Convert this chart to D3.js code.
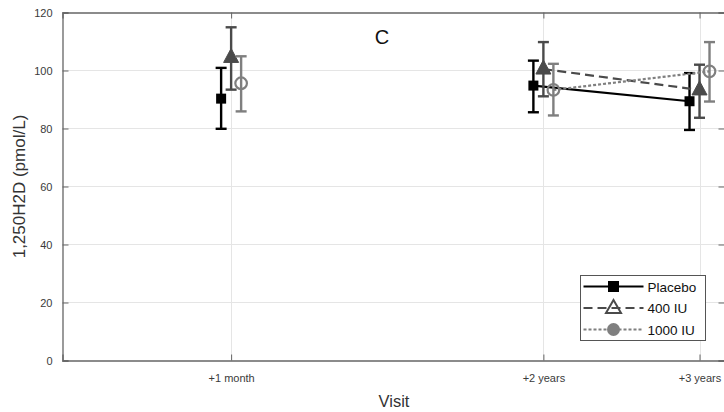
<!DOCTYPE html>
<html><head><meta charset="utf-8">
<script src="https://cdn.jsdelivr.net/npm/d3@7"></script>
<style>body{margin:0;background:#fff}svg{display:block}text{font-family:"Liberation Sans",Arial,sans-serif}</style>
</head><body><svg id="c" width="724" height="412"></svg>
<script>
// ---- data ----
const visitLabels = ["+1 month", "+2 years", "+3 years"];
const visitPos = [1, 3, 4];
const seriesNames = ["Placebo", "400 IU", "1000 IU"];
const placeboMean = [90.3, 94.8, 89.4];
const placeboLow = [79.9, 85.6, 79.5];
const placeboHigh = [100.9, 103.4, 99.1];
const iu400Mean = [104.5, 100.5, 93.3];
const iu400Low = [93.4, 91.1, 83.7];
const iu400High = [114.9, 109.8, 102.0];
const iu1000Mean = [95.6, 93.3, 99.7];
const iu1000Low = [85.9, 84.5, 89.3];
const iu1000High = [104.9, 102.3, 109.8];
const yTicks = [0, 20, 40, 60, 80, 100, 120];
const connectedFrom = 1; // lines join visits from "+2 years" onward

const svg = d3.select("#c");
const L = 62.5, R = 724.5, T = 12.5, B = 360.5;
const x = d3.scaleLinear().domain([-0.08, 4.16]).range([L, R]);
const y = d3.scaleLinear().domain([0, 120]).range([B, T]);

// grid
svg.append("g").selectAll("line").data(yTicks.slice(1, -1)).join("line")
  .attr("x1", L).attr("x2", R).attr("y1", d => y(d)).attr("y2", d => y(d))
  .attr("stroke", "#e5e5e5").attr("stroke-width", 1);
svg.append("g").selectAll("line").data(visitPos).join("line")
  .attr("y1", T).attr("y2", B).attr("x1", d => Math.round(x(d)) + 0.5).attr("x2", d => Math.round(x(d)) + 0.5)
  .attr("stroke", "#e5e5e5").attr("stroke-width", 1);

// axes
const axCol = "#666";
const yAxis = svg.append("g").attr("transform", `translate(${L},0)`)
  .call(d3.axisLeft(y).tickValues(yTicks).tickSize(-6).tickPadding(10));
const xAxis = svg.append("g").attr("transform", `translate(0,${B})`)
  .call(d3.axisBottom(x).tickValues(visitPos).tickFormat((d, i) => visitLabels[i]).tickSize(-6).tickPadding(14));
const yAxisR = svg.append("g").attr("transform", `translate(${R},0)`)
  .call(d3.axisRight(y).tickValues(yTicks).tickSize(-6).tickFormat(""));
const xAxisT = svg.append("g").attr("transform", `translate(0,${T})`)
  .call(d3.axisTop(x).tickValues(visitPos).tickSize(-6).tickFormat(""));
[yAxis, xAxis, yAxisR, xAxisT].forEach(g => {
  g.select(".domain").attr("stroke", axCol).attr("stroke-width", 1.3);
  g.selectAll(".tick line").attr("stroke", axCol);
  g.selectAll("text").attr("fill", "#3a3a3a").style("font-size", "11px").style("font-family", "'Liberation Sans',Arial,sans-serif");
});

// labels
svg.append("text").attr("x", 394).attr("y", 407).attr("text-anchor", "middle")
  .attr("fill", "#333").style("font-size", "16.5px").text("Visit");
svg.append("text").attr("transform", `translate(25,${(T + B) / 2}) rotate(-90)`).attr("text-anchor", "middle")
  .attr("fill", "#333").style("font-size", "17px").text("1,250H2D (pmol/L)");
svg.append("text").attr("x", 382).attr("y", 44).attr("text-anchor", "middle")
  .attr("fill", "#111").style("font-size", "20px").text("C");

// series
const series = [
  {name: seriesNames[0], mean: placeboMean, lo: placeboLow, hi: placeboHigh, color: "#000", dx: -10, dash: null, marker: "square"},
  {name: seriesNames[1], mean: iu400Mean, lo: iu400Low, hi: iu400High, color: "#4a4a4a", dx: 0, dash: "9,5", marker: "triangle"},
  {name: seriesNames[2], mean: iu1000Mean, lo: iu1000Low, hi: iu1000High, color: "#7f7f7f", dx: 10, dash: "3,2", marker: "circle"}
];

series.forEach(s => {
  const g = svg.append("g");
  const pts = visitPos.map((v, i) => ({px: x(v) + s.dx, m: s.mean[i], lo: s.lo[i], hi: s.hi[i], i}));
  const line = d3.line().x(d => d.px).y(d => y(d.m));
  g.append("path").datum(pts.filter(d => d.i >= connectedFrom)).attr("d", line)
    .attr("fill", "none").attr("stroke", s.color).attr("stroke-width", 2.2)
    .attr("stroke-dasharray", s.dash);
  // error bars
  g.selectAll(".eb").data(pts).join("line").attr("x1", d => d.px).attr("x2", d => d.px)
    .attr("y1", d => y(d.lo)).attr("y2", d => y(d.hi)).attr("stroke", s.color).attr("stroke-width", 2.4);
  ["lo", "hi"].forEach(k => {
    g.selectAll(".cap" + k).data(pts).join("line").attr("x1", d => d.px - 5.5).attr("x2", d => d.px + 5.5)
      .attr("y1", d => y(d[k])).attr("y2", d => y(d[k])).attr("stroke", s.color).attr("stroke-width", 2.4);
  });
  // markers
  if (s.marker === "square") {
    g.selectAll(".mk").data(pts).join("rect").attr("x", d => d.px - 5).attr("y", d => y(d.m) - 5)
      .attr("width", 10).attr("height", 10).attr("fill", s.color);
  } else if (s.marker === "triangle") {
    g.selectAll(".mk").data(pts).join("path")
      .attr("d", d => `M${d.px},${y(d.m) - 9}L${d.px + 7.5},${y(d.m) + 5}L${d.px - 7.5},${y(d.m) + 5}Z`)
      .attr("fill", s.color).attr("stroke", s.color).attr("stroke-width", 1);
  } else {
    g.selectAll(".mk").data(pts).join("circle").attr("cx", d => d.px).attr("cy", d => y(d.m)).attr("r", 5.8)
      .attr("fill", "none").attr("stroke", s.color).attr("stroke-width", 2.2);
  }
});

// legend
const lg = svg.append("g").attr("transform", "translate(580.5,275.5)");
lg.append("rect").attr("width", 125).attr("height", 65).attr("fill", "#fff").attr("stroke", "#555").attr("stroke-width", 1);
series.forEach((s, i) => {
  const cy = 11 + i * 21.5;
  lg.append("line").attr("x1", 3).attr("x2", 63).attr("y1", cy).attr("y2", cy)
    .attr("stroke", s.color).attr("stroke-width", 2.2).attr("stroke-dasharray", s.dash);
  const cx = 33;
  if (s.marker === "square") {
    lg.append("rect").attr("x", cx - 5).attr("y", cy - 5).attr("width", 10).attr("height", 10).attr("fill", s.color)
      .attr("stroke", "#000").attr("stroke-width", 1);
  } else if (s.marker === "triangle") {
    lg.append("path").attr("d", `M${cx},${cy - 8}L${cx + 7.5},${cy + 5}L${cx - 7.5},${cy + 5}Z`)
      .attr("fill", "none").attr("stroke", s.color).attr("stroke-width", 2);
  } else {
    lg.append("circle").attr("cx", cx).attr("cy", cy).attr("r", 6.5).attr("fill", s.color);
  }
  lg.append("text").attr("x", 67).attr("y", cy + 5).attr("fill", "#111").style("font-size", "13.5px").text(s.name);
});
</script></body></html>
